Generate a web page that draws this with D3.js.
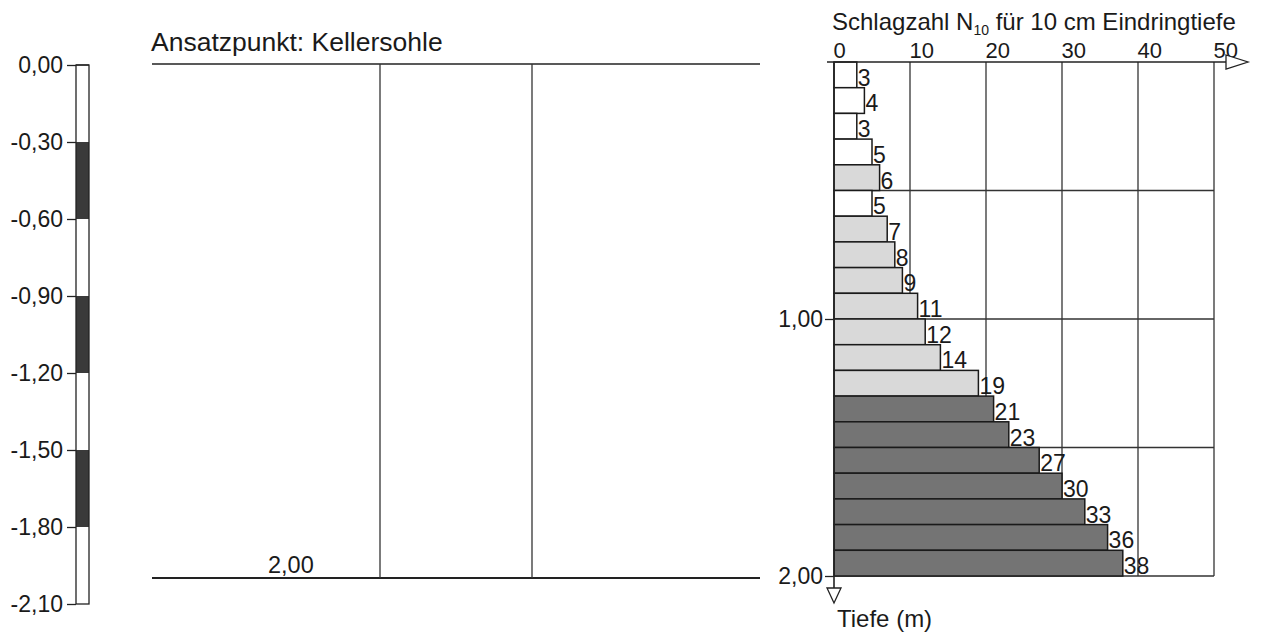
<!DOCTYPE html>
<html><head><meta charset="utf-8">
<script src="https://cdn.jsdelivr.net/npm/d3@7"></script>
<style>body{margin:0;background:#fff}svg{display:block}text{font-family:"Liberation Sans",Arial,sans-serif;fill:#1a1a1a}</style>
</head><body>
<svg id="c" width="1261" height="636"></svg>
<script>
// ---- data ----
const blowCounts = [3,4,3,5,6,5,7,8,9,11,12,14,19,21,23,27,30,33,36,38];
const layerClass = ["w","w","w","w","l","w","l","l","l","l","l","l","l","d","d","d","d","d","d","d"];
const depthStep = 0.1;
const xTicks = [0,10,20,30,40,50];
const depthTickLabels = ["1,00","2,00"];
const depthTicks = [1.0,2.0];
const scaleTicks = [0,-0.3,-0.6,-0.9,-1.2,-1.5,-1.8,-2.1];
const scaleLayerTops = [0,0.3,0.6,0.9,1.2,1.5,1.8];
const scaleLayerDark = [false,true,false,true,false,true,false];
const titleMain = "Schlagzahl N", titleSub = "10", titleRest = " für 10 cm Eindringtiefe";
const leftTitle = "Ansatzpunkt: Kellersohle";
const endDepthLabel = "2,00";
const depthAxisTitle = "Tiefe (m)";

const FF = "Liberation Sans, Arial, sans-serif";
const svg = d3.select("#c");
const fills = {w:"#ffffff", l:"#d9d9d9", d:"#747474"};
const fmt = v => d3.format(".2f")(v).replace(".", ",").replace("\u2212", "-");

// ---- left scale column ----
const yL = d3.scaleLinear().domain([0,-2.1]).range([65,604]);
const gL = svg.append("g");
gL.selectAll("rect.layer").data(scaleLayerTops).join("rect")
  .attr("x",76).attr("width",13)
  .attr("y",d=>yL(-d)).attr("height",d=>yL(-(d+0.3))-yL(-d))
  .attr("fill",(d,i)=>scaleLayerDark[i]?"#3a3a3a":"#fff");
gL.append("rect").attr("x",76).attr("y",yL(0)).attr("width",13).attr("height",yL(-2.1)-yL(0))
  .attr("fill","none").attr("stroke","#222").attr("stroke-width",1.3);
const axL = d3.axisLeft(yL).tickValues(scaleTicks).tickFormat(fmt).tickSize(9).tickPadding(4);
gL.append("g").attr("transform","translate(76,0)").call(axL)
  .call(g=>g.select(".domain").remove())
  .call(g=>g.selectAll("line").attr("stroke","#222").attr("stroke-width",1.3))
  .call(g=>g.selectAll("text").attr("font-size",23).attr("fill","#1a1a1a").attr("font-family",FF));
gL.append("line").attr("x1",76).attr("x2",89).attr("y1",yL(0)).attr("y2",yL(0)).attr("stroke","#222").attr("stroke-width",1.3);

// ---- middle section ----
const yM = d3.scaleLinear().domain([0,2]).range([64,578]);
const gM = svg.append("g");
gM.append("text").attr("x",151).attr("y",51).attr("font-size",26.5).text(leftTitle);
gM.append("line").attr("x1",152).attr("x2",760).attr("y1",yM(0)).attr("y2",yM(0)).attr("stroke","#222").attr("stroke-width",1.6);
gM.append("line").attr("x1",152).attr("x2",760).attr("y1",yM(2)).attr("y2",yM(2)).attr("stroke","#222").attr("stroke-width",1.8);
[380,532].forEach(x=>gM.append("line").attr("x1",x).attr("x2",x).attr("y1",yM(0)).attr("y2",yM(2)).attr("stroke","#333").attr("stroke-width",1.3));
gM.append("text").attr("x",268).attr("y",yM(2)-5).attr("font-size",23.5).text(endDepthLabel);

// ---- right chart ----
const x = d3.scaleLinear().domain([0,50]).range([834,1214]);
const y = d3.scaleLinear().domain([0,2]).range([62,576]);
const gR = svg.append("g");
// grid
[10,20,30,40,50].forEach(v=>gR.append("line").attr("x1",x(v)).attr("x2",x(v)).attr("y1",y(0)).attr("y2",y(2)).attr("stroke","#333").attr("stroke-width",1.3));
[0.5,1.0,1.5,2.0].forEach(v=>gR.append("line").attr("x1",x(0)).attr("x2",x(50)).attr("y1",y(v)).attr("y2",y(v)).attr("stroke","#333").attr("stroke-width",1.3));
// bars
const bars = blowCounts.map((v,i)=>({v, top:i*depthStep, cls:layerClass[i]}));
gR.selectAll("rect.bar").data(bars).join("rect")
  .attr("x",x(0)).attr("y",d=>y(d.top)).attr("width",d=>x(d.v)-x(0)).attr("height",d=>y(d.top+depthStep)-y(d.top))
  .attr("fill",d=>fills[d.cls]).attr("stroke","#1a1a1a").attr("stroke-width",1.5);
gR.selectAll("text.val").data(bars).join("text")
  .attr("x",d=>x(d.v)+1).attr("y",d=>y(d.top+depthStep)-2).attr("font-size",23).text(d=>d.v);
// top axis
const axT = d3.axisTop(x).tickValues(xTicks).tickSize(0).tickPadding(4);
gR.append("g").attr("transform",`translate(0,${y(0)})`).call(axT)
  .call(g=>g.select(".domain").remove())
  .call(g=>g.selectAll("text").attr("text-anchor","start").attr("dx",-1).attr("font-size",22).attr("fill","#1a1a1a").attr("font-family",FF));
gR.append("line").attr("x1",827).attr("x2",1226).attr("y1",y(0)).attr("y2",y(0)).attr("stroke","#222").attr("stroke-width",1.6);
gR.append("path").attr("d",`M1226,${y(0)-7}L1248,${y(0)}L1226,${y(0)+7}Z`).attr("fill","#fff").attr("stroke","#222").attr("stroke-width",1.3);
// title
const tt = gR.append("text").attr("x",832).attr("y",30).attr("font-size",24);
tt.append("tspan").text(titleMain);
tt.append("tspan").attr("font-size",14).attr("dy",5).text(titleSub);
tt.append("tspan").attr("dy",-5).text(titleRest);
// depth axis
const axD = d3.axisLeft(y).tickValues(depthTicks).tickFormat((d,i)=>depthTickLabels[i]).tickSize(9).tickPadding(2);
gR.append("g").attr("transform",`translate(${x(0)},0)`).call(axD)
  .call(g=>g.select(".domain").remove())
  .call(g=>g.selectAll("line").attr("stroke","#222").attr("stroke-width",1.3))
  .call(g=>g.selectAll("text").attr("font-size",23).attr("fill","#1a1a1a").attr("font-family",FF));
gR.append("line").attr("x1",x(0)).attr("x2",x(0)).attr("y1",y(0)).attr("y2",588).attr("stroke","#222").attr("stroke-width",1.6);
gR.append("path").attr("d",`M${x(0)-7},588L${x(0)+7},588L${x(0)},603Z`).attr("fill","#fff").attr("stroke","#222").attr("stroke-width",1.3);
gR.append("text").attr("x",837).attr("y",627).attr("font-size",24).text(depthAxisTitle);
</script>
</body></html>
